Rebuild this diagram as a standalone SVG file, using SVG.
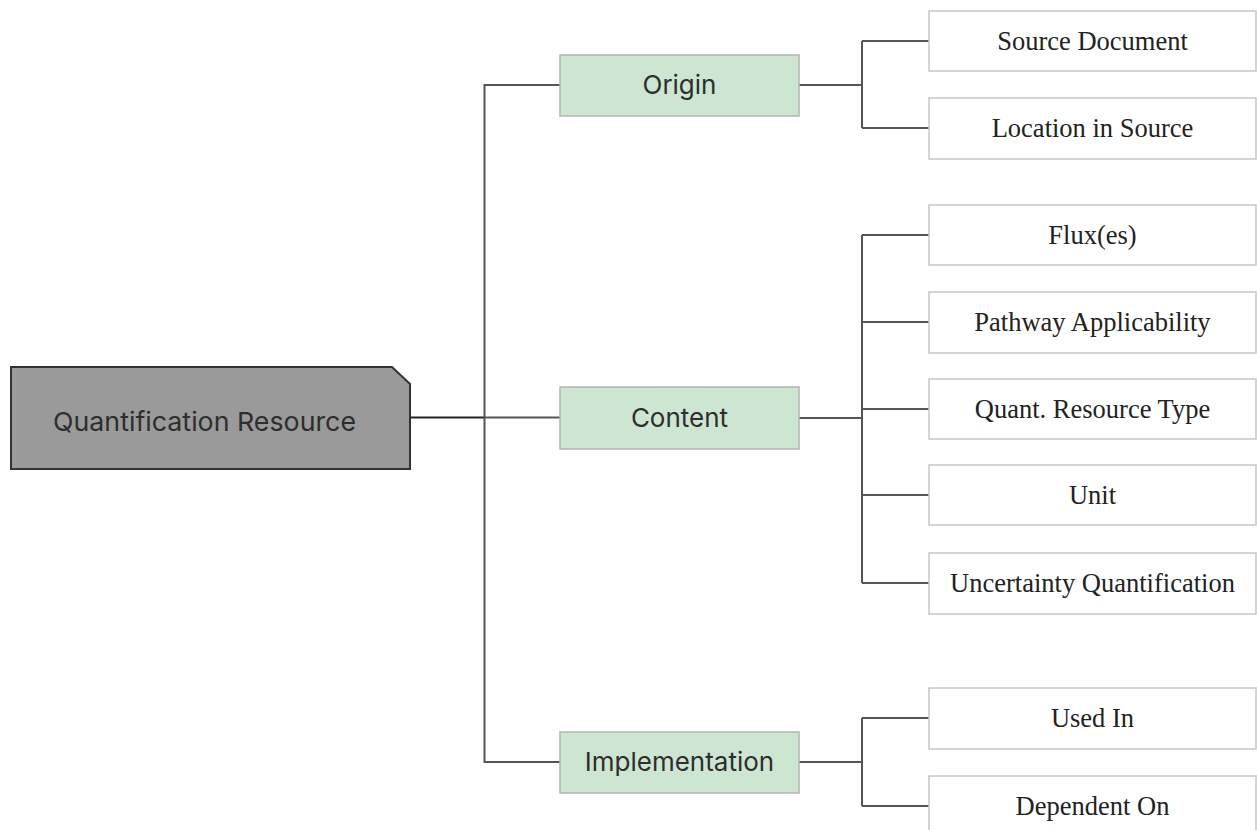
<svg xmlns="http://www.w3.org/2000/svg" width="1257" height="830" viewBox="0 0 1257 830">
<style>
.conn{fill:none;stroke:#555;stroke-width:2}
.root{fill:#9a9a9a;stroke:#333;stroke-width:2}
.mid{fill:#cde6d1;stroke:#b4b4b4;stroke-width:1.5}
.leaf{fill:#fff;stroke:#c6c6c6;stroke-width:1.5}
.sans{font-family:Inter,"Liberation Sans",sans-serif;fill:#2e2e2e;font-size:26px}
.serif{font-family:"Liberation Serif","Times New Roman",serif;fill:#222;font-size:26.5px;text-anchor:middle}
</style>
<rect width="1257" height="830" fill="#fff"/>
<g id="connectors">
<path class="conn" d="M410 417.5H484.5" style="stroke:#222"/>
<path class="conn" d="M560 85H484.5V762H560M484.5 417.5H560"/>
<path class="conn" d="M799 85H862M862 41V128M862 41H929M862 128H929"/>
<path class="conn" d="M799 418H862M862 235V583M862 235H929M862 322H929M862 409H929M862 495H929M862 583H929"/>
<path class="conn" d="M799 762H862M862 718V806M862 718H929M862 806H929"/>
</g>
<g id="root">
<polygon class="root" points="11,367 392,367 410,384 410,469 11,469"/>
<text class="sans" x="53" y="431" textLength="303" lengthAdjust="spacingAndGlyphs">Quantification Resource</text>
</g>
<g id="origin">
<rect class="mid" x="560" y="55" width="239" height="61"/>
<text class="sans" x="679.5" y="94" text-anchor="middle">Origin</text>
</g>
<g id="content">
<rect class="mid" x="560" y="387" width="239" height="62"/>
<text class="sans" x="679.5" y="427" text-anchor="middle">Content</text>
</g>
<g id="implementation">
<rect class="mid" x="560" y="732" width="239" height="61"/>
<text class="sans" x="679.5" y="771" text-anchor="middle">Implementation</text>
</g>
<g id="source-document">
<rect class="leaf" x="929" y="11" width="327" height="60"/>
<text class="serif" x="1092.5" y="50">Source Document</text>
</g>
<g id="location-in-source">
<rect class="leaf" x="929" y="98" width="327" height="61"/>
<text class="serif" x="1092.5" y="137">Location in Source</text>
</g>
<g id="fluxes">
<rect class="leaf" x="929" y="205" width="327" height="60"/>
<text class="serif" x="1092.5" y="244">Flux(es)</text>
</g>
<g id="pathway-applicability">
<rect class="leaf" x="929" y="292" width="327" height="61"/>
<text class="serif" x="1092.5" y="331">Pathway Applicability</text>
</g>
<g id="quant-resource-type">
<rect class="leaf" x="929" y="379" width="327" height="60"/>
<text class="serif" x="1092.5" y="418">Quant. Resource Type</text>
</g>
<g id="unit">
<rect class="leaf" x="929" y="465" width="327" height="60"/>
<text class="serif" x="1092.5" y="504">Unit</text>
</g>
<g id="uncertainty-quantification">
<rect class="leaf" x="929" y="553" width="327" height="61"/>
<text class="serif" x="1092.5" y="592">Uncertainty Quantification</text>
</g>
<g id="used-in">
<rect class="leaf" x="929" y="688" width="327" height="61"/>
<text class="serif" x="1092.5" y="727">Used In</text>
</g>
<g id="dependent-on">
<rect class="leaf" x="929" y="776" width="327" height="62"/>
<text class="serif" x="1092.5" y="815">Dependent On</text>
</g>
</svg>
